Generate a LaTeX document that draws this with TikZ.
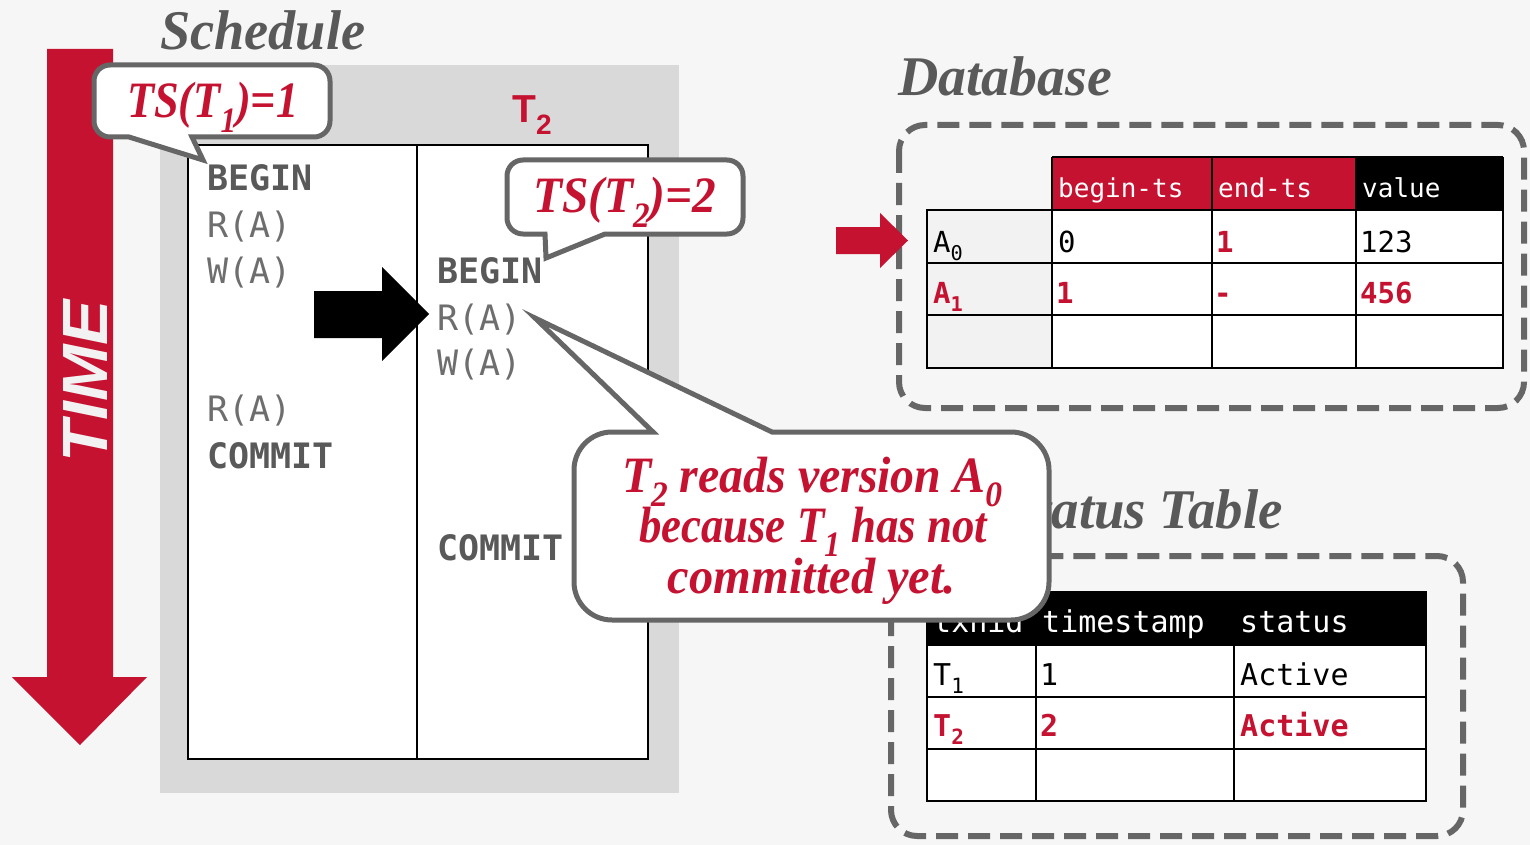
\documentclass[tikz,border=0pt]{standalone}
\usepackage{fontspec}
\usepackage{graphicx}
\setmainfont{Liberation Serif}
\newfontfamily\monofont{DejaVu Sans Mono}
\newfontfamily\sansfont{Liberation Sans}

\definecolor{cmured}{HTML}{C41230}
\definecolor{ink}{HTML}{595959}
\definecolor{opgray}{HTML}{6E6E6E}
\definecolor{edge}{HTML}{666666}
\definecolor{boxgray}{HTML}{D9D9D9}
\definecolor{cellgray}{HTML}{F2F2F2}
\definecolor{bg}{HTML}{F6F6F6}
\definecolor{timewhite}{HTML}{F2F2F2}

% stretch a text horizontally to a given width, keeping its height
\newcommand\fitw[2]{\resizebox{#1}{\height}{#2}}
% lowered small index
\newcommand\lo[1]{\raisebox{-0.28em}{\scalebox{0.7}{#1}}}

\begin{document}
\begin{tikzpicture}[x=1pt,y=-1pt,
  heading/.style={font=\fontsize{56}{60}\selectfont\bfseries\itshape, text=ink, inner sep=0pt, anchor=base west},
  note/.style={font=\fontsize{51}{56}\selectfont\bfseries\itshape, text=cmured, inner sep=0pt},
  bubble/.style={draw=edge, line width=5pt, fill=white, line join=miter},
  op/.style={font=\monofont\fontsize{35}{40}\selectfont, text=opgray, inner sep=0pt, anchor=base west},
  kw/.style={op, font=\monofont\bfseries\fontsize{35}{40}\selectfont, text=ink},
  cell/.style={font=\monofont\fontsize{29}{32}\selectfont, inner sep=0pt, anchor=base west, text=black},
  hot/.style={cell, font=\monofont\bfseries\fontsize{29}{32}\selectfont, text=cmured},
  head/.style={cell, font=\monofont\fontsize{26}{30}\selectfont, text=white},
  shead/.style={cell, font=\monofont\fontsize{30}{32}\selectfont, text=white},
  grid/.style={line width=2.5pt, draw=black},
  dashbox/.style={draw=edge, line width=6pt, dash pattern=on 22pt off 10pt, rounded corners=26pt}
]
\useasboundingbox (0,0) rectangle (1530,845);
\fill[bg] (0,0) rectangle (1530,845);

% ---------- time arrow ----------
\fill[cmured] (47,49) -- (113,49) -- (113,677) -- (147,677) -- (80,745)
  -- (12,677) -- (47,677) -- cycle;
\node[rotate=90, font=\sansfont\bfseries\itshape\fontsize{64}{64}\selectfont,
  text=timewhite, inner sep=0pt] (time) at (85,381) {\fitw{162pt}{TIME}};

% ---------- schedule ----------
\node[heading] (sched) at (160,50) {\fitw{205pt}{Schedule}};
\fill[boxgray] (160,65) rectangle (679,793);
\draw[line width=1.5pt, fill=white] (188,145) rectangle (648,759);
\draw[line width=1.5pt] (417,145) -- (417,759);

\node[font=\sansfont\bfseries\fontsize{39}{40}\selectfont, text=cmured, anchor=base west, inner sep=0pt]
  (t2) at (512,123) {T\raisebox{-12pt}{\fontsize{28}{28}\selectfont 2}};

\node[kw] (b1) at (207,190) {BEGIN};
\node[op] (r1) at (207,237) {R(A)};
\node[op] (w1) at (207,283) {W(A)};
\node[op] (r1b) at (207,421) {R(A)};
\node[kw] (c1) at (207,468) {COMMIT};

\node[kw] (b2) at (437,283) {BEGIN};
\node[op] (r2) at (437,330) {R(A)};
\node[op] (w2) at (437,375) {W(A)};
\node[kw] (c2) at (437,560) {COMMIT};

% current step marker
\fill[black] (314,291) -- (382,291) -- (382,267) -- (429,314) -- (382,361)
  -- (382,338) -- (314,338) -- cycle;

% ---------- timestamp bubbles ----------
\draw[bubble] (110,65) -- (314,65) arc[start angle=-90,end angle=0,radius=16]
  -- (330,121) arc[start angle=0,end angle=90,radius=16]
  -- (192,137) -- (203,160) -- (129,137)
  -- (110,137) arc[start angle=90,end angle=180,radius=16]
  -- (94,81) arc[start angle=180,end angle=270,radius=16] -- cycle;
\node[note, anchor=base west] (ts1) at (127,118) {\fitw{171pt}{TS(T\lo{1})=1}};

\draw[bubble] (523,160) -- (727,160) arc[start angle=-90,end angle=0,radius=16]
  -- (743,218) arc[start angle=0,end angle=90,radius=16]
  -- (605,234) -- (546,258) -- (545,234)
  -- (523,234) arc[start angle=90,end angle=180,radius=16]
  -- (507,176) arc[start angle=180,end angle=270,radius=16] -- cycle;
\node[note, anchor=base west] (ts2) at (533,213) {\fitw{183pt}{TS(T\lo{2})=2}};

% ---------- database ----------
\node[heading] (dbtitle) at (898,96) {\fitw{214pt}{Database}};
\draw[dashbox] (899,125) rectangle (1524,408);

\fill[cellgray] (927,210) rectangle (1052,368);
\fill[white] (1052,210) rectangle (1503,368);
\fill[cmured] (1052,157) rectangle (1356,210);
\fill[black] (1356,157) rectangle (1503,210);
\draw[grid] (1052,157) -- (1503,157);
\draw[grid] (927,210) rectangle (1503,368);
\draw[grid] (927,263) -- (1503,263);
\draw[grid] (927,315) -- (1503,315);
\draw[grid] (1052,157) -- (1052,368);
\draw[grid] (1212,157) -- (1212,368);
\draw[grid] (1356,157) -- (1356,368);
\draw[grid] (1503,157) -- (1503,368);

\node[head] (hbeg) at (1058,197) {begin-ts};
\node[head] (hend) at (1218,197) {end-ts};
\node[head] (hval) at (1362,197) {value};

\node[cell] (a0) at (933,252) {A\lo{0}};
\node[cell] (a0b) at (1058,252) {0};
\node[hot] (a0e) at (1216,252) {1};
\node[cell] (a0v) at (1360,252) {123};

\node[hot] (a1) at (933,303) {A\lo{1}};
\node[hot] (a1b) at (1056,303) {1};
\node[hot] (a1e) at (1214,303) {-};
\node[hot] (a1v) at (1360,303) {456};

\fill[cmured] (836,227) -- (880,227) -- (880,213) -- (908,240.5) -- (880,268)
  -- (880,254) -- (836,254) -- cycle;

% ---------- transaction status table ----------
\node[heading, anchor=base east] (stitle) at (1283,528) {\fitw{382pt}{Txn Status Table}};
\draw[dashbox] (891,556) rectangle (1463,836);

\fill[black] (927,592) rectangle (1426,645);
\fill[white] (927,645) rectangle (1426,801);
\draw[grid] (927,592) rectangle (1426,801);
\draw[grid] (927,645) -- (1426,645);
\draw[grid] (927,697) -- (1426,697);
\draw[grid] (927,749) -- (1426,749);
\draw[grid] (1036,645) -- (1036,801);
\draw[grid] (1234,645) -- (1234,801);

\node[shead] (htx) at (933,632) {txnid};
\node[shead] (hts) at (1042,632) {timestamp};
\node[shead] (hst) at (1240,632) {status};

\node[cell, font=\monofont\fontsize{30}{32}\selectfont] (x1) at (933,685) {T\lo{1}};
\node[cell, font=\monofont\fontsize{30}{32}\selectfont] (x1t) at (1040,685) {1};
\node[cell, font=\monofont\fontsize{30}{32}\selectfont] (x1s) at (1240,685) {Active};

\node[hot, font=\monofont\bfseries\fontsize{30}{32}\selectfont] (x2) at (933,736) {T\lo{2}};
\node[hot, font=\monofont\bfseries\fontsize{30}{32}\selectfont] (x2t) at (1040,736) {2};
\node[hot, font=\monofont\bfseries\fontsize{30}{32}\selectfont] (x2s) at (1240,736) {Active};

% ---------- explanation bubble ----------
\draw[bubble] (653,432) -- (535,318) -- (772,432)
  -- (1011,432) arc[start angle=-90,end angle=0,radius=38]
  -- (1049,582) arc[start angle=0,end angle=90,radius=38]
  -- (612,620) arc[start angle=90,end angle=180,radius=38]
  -- (574,470) arc[start angle=180,end angle=270,radius=38] -- cycle;
\node[note, anchor=base] (n1) at (812,492) {\fitw{380pt}{T\lo{2} reads version A\lo{0}}};
\node[note, anchor=base] (n2) at (813,542) {\fitw{348pt}{because T\lo{1} has not}};
\node[note, anchor=base] (n3) at (812,593) {\fitw{288pt}{committed yet.}};
\end{tikzpicture}
\end{document}
